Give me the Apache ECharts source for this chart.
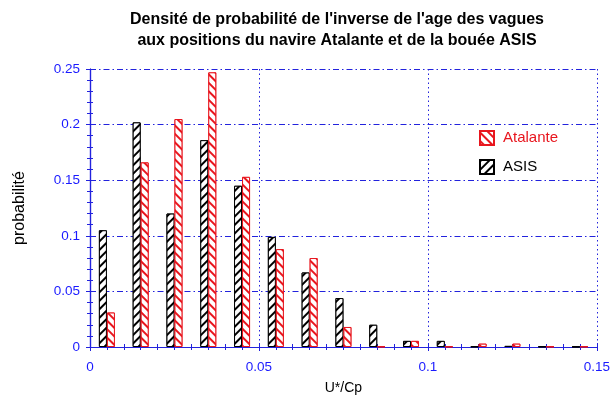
<!DOCTYPE html>
<html><head><meta charset="utf-8">
<script src="https://cdn.jsdelivr.net/npm/echarts@6/dist/echarts.min.js"></script>
<style>html,body{margin:0;padding:0;background:#fff}#c{width:613px;height:410px}</style>
</head><body><div id="c"></div>
<script>
var binCenters = [0.005,0.015,0.025,0.035,0.045,0.055,0.065,0.075,0.085,0.095,0.105,0.115,0.125,0.135,0.145];
var asisValues = [0.105,0.202,0.120,0.186,0.145,0.099,0.067,0.044,0.020,0.0055,0.0055,0.0005,0.001,0.0005,0.0003];
var atalanteValues = [0.031,0.166,0.205,0.247,0.153,0.088,0.080,0.018,0.0005,0.0055,0.0005,0.003,0.003,0.0005,0.0005];
var xTicks = [0, 0.05, 0.1, 0.15];
var yTicks = [0, 0.05, 0.1, 0.15, 0.2, 0.25];

var BLUE = '#2222dd', LBLUE = '#1a1aff', RED = '#e8161e';
var FONT = 'Liberation Sans';
function pairs(vals){ return binCenters.map(function(c,i){ return [c, vals[i]]; }); }
function fmt(v){ return String(Math.round(v*1000)/1000); }
function hatch(color, rot){
  return { symbol:'rect', symbolSize:1, dashArrayX:[1,0], dashArrayY:[1.2,3.4], rotation:rot, color:color, backgroundColor:'#fff' };
}
var chart = echarts.init(document.getElementById('c'), null, {renderer:'canvas'});
var axisLine = {show:true, lineStyle:{color:BLUE, width:1.2}};
chart.setOption({
  animation:false,
  textStyle:{fontFamily:FONT},
  title:{ text:"Densité de probabilité de l'inverse de l'age des vagues\naux positions du navire Atalante et de la bouée ASIS",
    left:332, top:4, textAlign:'center',
    textStyle:{fontFamily:FONT, fontSize:16, fontWeight:'bold', color:'#000', lineHeight:21} },
  legend:{ orient:'vertical', left:474, top:125, itemWidth:14, itemHeight:14, itemGap:13, icon:'rect',
    textStyle:{fontFamily:FONT, fontSize:15, padding:[0,0,0,4]},
    data:[{name:'Atalante', textStyle:{color:RED}}, {name:'ASIS', textStyle:{color:'#000'}}] },
  grid:{ left:90, right:10, top:69, bottom:63, containLabel:false },
  xAxis:[{ type:'value', min:0, max:0.15, interval:0.05, position:'bottom',
      name:'U*/Cp', nameLocation:'middle', nameGap:34, nameTextStyle:{color:'#000', fontSize:14, fontFamily:FONT},
      axisLine:axisLine, axisTick:{show:true, inside:true, length:4, lineStyle:{color:BLUE}},
      minorTick:{show:true, splitNumber:10, length:3, lineStyle:{color:BLUE}},
      axisLabel:{color:LBLUE, fontSize:13.5, margin:13, fontFamily:FONT, formatter:function(v){ return xTicks.indexOf(v)>=0? fmt(v):''; }},
      splitLine:{show:true, lineStyle:{color:BLUE, type:[1.5,3], width:1}} },
    { type:'value', min:0, max:0.15, interval:0.05, position:'top',
      axisLine:axisLine, axisTick:{show:true, inside:true, length:4, lineStyle:{color:BLUE}},
      minorTick:{show:true, splitNumber:10, length:3, lineStyle:{color:BLUE}},
      axisLabel:{show:false}, splitLine:{show:false} }],
  yAxis:[{ type:'value', min:0, max:0.25, interval:0.05, position:'left',
      name:'probabilité', nameLocation:'middle', nameGap:62, nameTextStyle:{color:'#000', fontSize:16, fontFamily:FONT},
      axisLine:axisLine, axisTick:{show:true, inside:true, length:4, lineStyle:{color:BLUE}},
      minorTick:{show:true, splitNumber:5, length:3, lineStyle:{color:BLUE}},
      axisLabel:{color:LBLUE, fontSize:13.5, margin:10, fontFamily:FONT, formatter:function(v){ return yTicks.indexOf(Math.round(v*100)/100)>=0? fmt(v):''; }},
      splitLine:{show:true, lineStyle:{color:BLUE, type:[6,3,1.5,3], width:1}} },
    { type:'value', min:0, max:0.25, interval:0.05, position:'right',
      axisLine:axisLine, axisTick:{show:true, inside:true, length:4, lineStyle:{color:BLUE}},
      minorTick:{show:true, splitNumber:5, length:3, lineStyle:{color:BLUE}},
      axisLabel:{show:false}, splitLine:{show:false} }],
  series:[
    { name:'ASIS', type:'bar', xAxisIndex:0, yAxisIndex:0, data:pairs(asisValues), barWidth:8, barGap:'0%',
      itemStyle:{ color:'#fff', borderColor:'#000', borderWidth:1, decal:hatch('#000', -Math.PI/4) } },
    { name:'Atalante', type:'bar', xAxisIndex:0, yAxisIndex:0, data:pairs(atalanteValues), barWidth:8, barGap:'0%',
      itemStyle:{ color:'#fff', borderColor:RED, borderWidth:1, decal:hatch(RED, Math.PI/4) } }
  ]
});
</script></body></html>
